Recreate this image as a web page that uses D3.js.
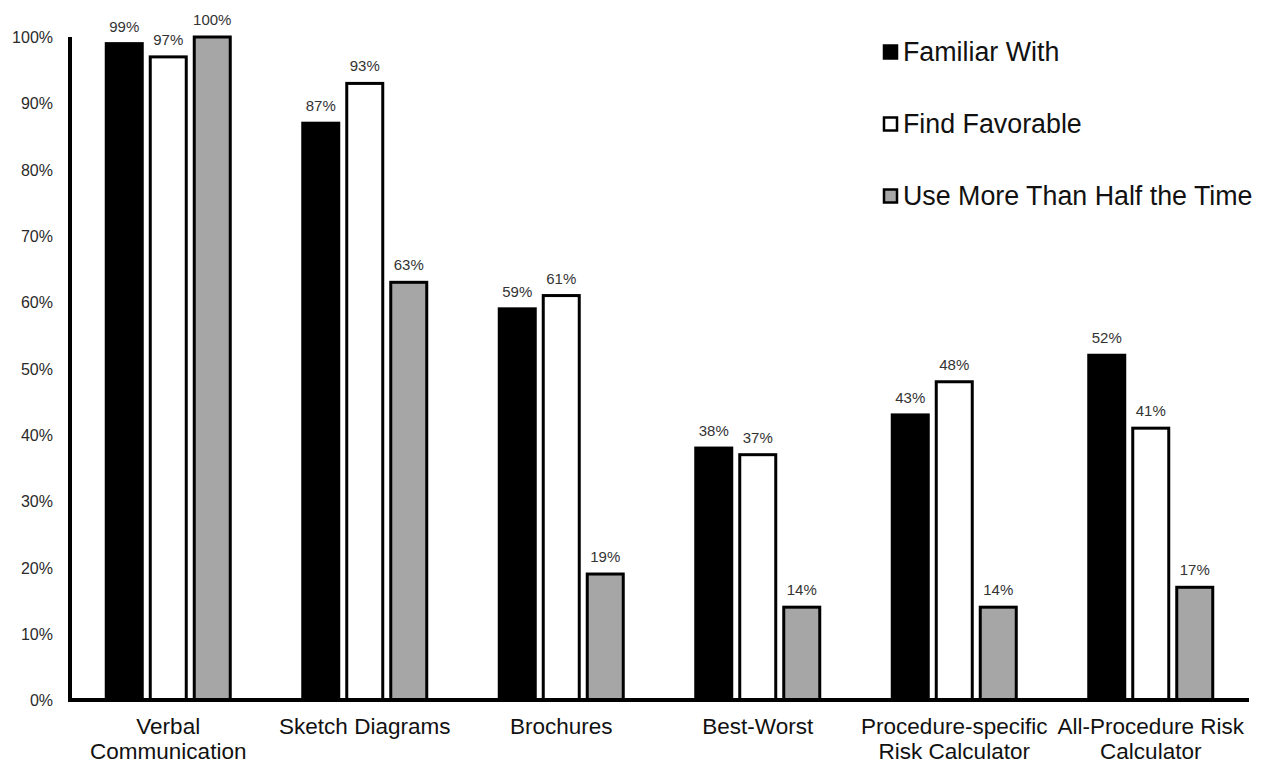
<!DOCTYPE html>
<html>
<head>
<meta charset="utf-8">
<script src="https://cdn.jsdelivr.net/npm/d3@7"></script>
<style>
  html, body { margin: 0; padding: 0; background: #fff; }
  svg { display: block; font-family: Arial, "Liberation Sans", Helvetica, sans-serif; }
</style>
</head>
<body>
<svg id="chart" width="1269" height="766"></svg>
<script>
// Communication tools: share of respondents per tool
const categories = [
  ["Verbal", "Communication"],
  ["Sketch Diagrams"],
  ["Brochures"],
  ["Best-Worst"],
  ["Procedure-specific", "Risk Calculator"],
  ["All-Procedure Risk", "Calculator"]
];
const seriesNames = ["Familiar With", "Find Favorable", "Use More Than Half the Time"];
const familiarWith    = [99, 87, 59, 38, 43, 52];
const findFavorable   = [97, 93, 61, 37, 48, 41];
const useMoreThanHalf = [100, 63, 19, 14, 14, 17];
const yTicks = [0, 10, 20, 30, 40, 50, 60, 70, 80, 90, 100];

const seriesValues = [familiarWith, findFavorable, useMoreThanHalf];
const fills = ["#000000", "#ffffff", "#a6a6a6"];

const svg = d3.select("#chart");
const x0 = 70, x1 = 1249, yTop = 37, yBottom = 700;

const x = d3.scaleBand().domain(d3.range(categories.length)).range([x0, x1]).paddingInner(0).paddingOuter(0);
const y = d3.scaleLinear().domain([0, 100]).range([yBottom, yTop]);

const barW = 36, barPitch = 44;

// Y tick labels
const yAxis = d3.axisLeft(y).tickValues(yTicks).tickFormat(d => d + "%").tickSize(0).tickPadding(17);
const gy = svg.append("g").attr("transform", `translate(${x0},0)`).call(yAxis);
gy.select(".domain").remove();
gy.selectAll("text")
  .attr("font-size", 16)
  .attr("fill", "#2a2a2a")
  .attr("font-family", "Arial, 'Liberation Sans', sans-serif")
  .attr("dy", "0.35em");

// Bars
const groups = svg.append("g").selectAll("g")
  .data(categories.map((c, i) => i))
  .join("g")
  .attr("transform", i => `translate(${x(i) + x.bandwidth() / 2},0)`);

seriesValues.forEach((vals, s) => {
  const offset = (s - 1) * barPitch - barW / 2;
  groups.append("rect")
    .attr("x", offset)
    .attr("y", i => y(vals[i]))
    .attr("width", barW)
    .attr("height", i => y(0) - y(vals[i]))
    .attr("fill", fills[s])
    .attr("stroke", "#000")
    .attr("stroke-width", 3);
  groups.append("text")
    .attr("x", offset + barW / 2)
    .attr("y", i => y(vals[i]) - 12)
    .attr("text-anchor", "middle")
    .attr("font-size", 15)
    .attr("fill", "#333")
    .text(i => vals[i] + "%");
});

// Axis lines
svg.append("line")
  .attr("x1", x0).attr("x2", x0)
  .attr("y1", yTop).attr("y2", yBottom + 2)
  .attr("stroke", "#000").attr("stroke-width", 4);
svg.append("line")
  .attr("x1", x0 - 2).attr("x2", x1)
  .attr("y1", yBottom).attr("y2", yBottom)
  .attr("stroke", "#000").attr("stroke-width", 4);

// Category labels
const xAxis = d3.axisBottom(x).tickSize(0).tickFormat(() => "");
const gx = svg.append("g").attr("transform", `translate(0,${yBottom})`).call(xAxis);
gx.select(".domain").remove();
gx.selectAll(".tick").each(function(i) {
  const t = d3.select(this).append("text")
    .attr("text-anchor", "middle")
    .attr("font-size", 22.5)
    .attr("fill", "#111")
    .attr("y", 34);
  categories[i].forEach((line, k) => {
    t.append("tspan").attr("x", 0).attr("dy", k === 0 ? 0 : 25).text(line);
  });
});

// Legend
const legend = svg.append("g").attr("transform", "translate(884,0)");
seriesNames.forEach((name, s) => {
  const cy = 52 + s * 72;
  legend.append("rect")
    .attr("x", 0).attr("y", cy - 6.5)
    .attr("width", 13).attr("height", 13)
    .attr("fill", fills[s])
    .attr("stroke", "#000").attr("stroke-width", 2.5);
  legend.append("text")
    .attr("x", 19).attr("y", cy + 9)
    .attr("font-size", 26.8)
    .attr("fill", "#111")
    .text(name);
});
</script>
</body>
</html>
